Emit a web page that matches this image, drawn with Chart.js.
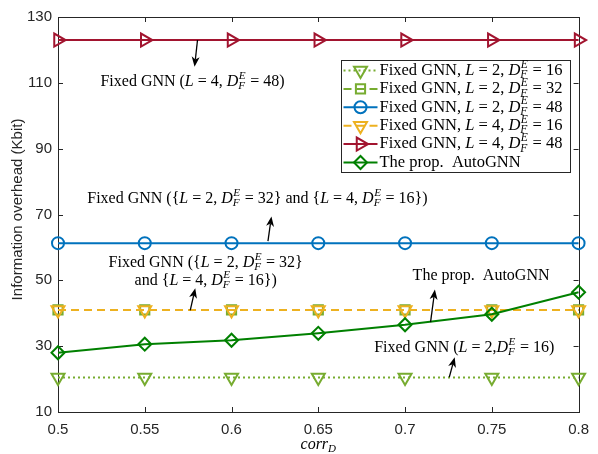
<!DOCTYPE html>
<html><head><meta charset="utf-8">
<script src="https://cdn.jsdelivr.net/npm/chart.js@4.4.0/dist/chart.umd.min.js"></script>
<style>html,body{margin:0;padding:0;background:#fff;}#wrap{width:598px;height:454px;position:relative;}</style>
</head><body><div id="wrap"><canvas id="c" width="598" height="454"></canvas></div>
<script>
// ---- data ----
const corrD = [0.5, 0.55, 0.6, 0.65, 0.7, 0.75, 0.8];
const xTickLabels = ['0.5', '0.55', '0.6', '0.65', '0.7', '0.75', '0.8'];
const yTickValues = [10, 30, 50, 70, 90, 110, 130];
const fixedL2D16 = [20.5, 20.5, 20.5, 20.5, 20.5, 20.5, 20.5];
const fixedL2D32 = [41, 41, 41, 41, 41, 41, 41];
const fixedL2D48 = [61.3, 61.3, 61.3, 61.3, 61.3, 61.3, 61.3];
const fixedL4D16 = [41, 41, 41, 41, 41, 41, 41];
const fixedL4D48 = [123, 123, 123, 123, 123, 123, 123];
const autoGNN = [28.0, 30.6, 31.8, 33.9, 36.5, 39.7, 46.4];
const seriesLabels = [
  'Fixed GNN, $L$ = 2, $D$^{E}_{F} = 16',
  'Fixed GNN, $L$ = 2, $D$^{E}_{F} = 32',
  'Fixed GNN, $L$ = 2, $D$^{E}_{F} = 48',
  'Fixed GNN, $L$ = 4, $D$^{E}_{F} = 16',
  'Fixed GNN, $L$ = 4, $D$^{E}_{F} = 48',
  'The prop.  AutoGNN'
];
// annotations: text lines at data coords, arrows tail->tip in data coords
const annotations = [
  {x: 0.5775, y: 110.3, lines: ['Fixed GNN ($L$ = 4, $D$^{E}_{F} = 48)'], tail: [0.5804, 123.0], tip: [0.5787, 114.9]},
  {x: 0.6149, y: 74.7, lines: ['Fixed GNN ({$L$ = 2, $D$^{E}_{F} = 32} and {$L$ = 4, $D$^{E}_{F} = 16})'], tail: [0.621, 61.9], tip: [0.623, 69.4]},
  {x: 0.5851, y: 55.4, lines: ['Fixed GNN ({$L$ = 2, $D$^{E}_{F} = 32}', 'and {$L$ = 4, $D$^{E}_{F} = 16})'], tail: [0.5762, 40.9], tip: [0.5791, 47.6]},
  {x: 0.7438, y: 51.4, lines: ['The prop.  AutoGNN'], tail: [0.7147, 37.3], tip: [0.7172, 47.2]},
  {x: 0.7341, y: 29.6, lines: ['Fixed GNN ($L$ = 2,$D$^{E}_{F} = 16)'], tail: [0.7255, 20.6], tip: [0.7286, 26.6]}
];

// ---- styles ----
const styles = [
  {color: '#77AC30', dash: [2, 3], style: 'triangle', rot: 180, r: 7.5},
  {color: '#77AC30', dash: [8, 5], style: 'rect', rot: 0, r: 6.5},
  {color: '#0072BD', dash: [], style: 'circle', rot: 0, r: 6},
  {color: '#EDB120', dash: [8, 5], style: 'triangle', rot: 180, r: 7.5},
  {color: '#A2142F', dash: [], style: 'triangle', rot: 90, r: 7.5},
  {color: '#008000', dash: [], style: 'rectRot', rot: 0, r: 6.5}
];
const seriesData = [fixedL2D16, fixedL2D32, fixedL2D48, fixedL4D16, fixedL4D48, autoGNN];
const AXIS = '#262626';
const SERIF = '"Liberation Serif", "Times New Roman", serif';
const SANS = '"Liberation Sans", Arial, sans-serif';

// ---- rich text ----
function parseRich(s) {
  const segs = []; let i = 0, buf = '';
  const flush = () => { if (buf) { segs.push({k: 'r', t: buf}); buf = ''; } };
  while (i < s.length) {
    const c = s[i];
    if (c === '$') { flush(); const j = s.indexOf('$', i + 1); segs.push({k: 'i', t: s.slice(i + 1, j)}); i = j + 1; }
    else if (c === '^') {
      flush(); const m = /^\^\{([^}]*)\}_\{([^}]*)\}/.exec(s.slice(i));
      segs.push({k: 's', sup: m[1], sub: m[2]}); i += m[0].length;
    } else { buf += c; i++; }
  }
  flush(); return segs;
}
function fontFor(k, size) { return (k === 'r' ? '' : 'italic ') + size + 'px ' + SERIF; }
function richWidth(ctx, segs, size) {
  let w = 0;
  for (const s of segs) {
    if (s.k === 's') {
      ctx.font = fontFor('i', size * 0.7);
      w += Math.max(ctx.measureText(s.sup).width, ctx.measureText(s.sub).width) + 1;
    } else { ctx.font = fontFor(s.k, size); w += ctx.measureText(s.t).width; }
  }
  return w;
}
function drawRich(ctx, str, x, y, size, align) {
  const segs = parseRich(str);
  let cx = align === 'center' ? x - richWidth(ctx, segs, size) / 2 : x;
  ctx.textBaseline = 'middle'; ctx.textAlign = 'left'; ctx.fillStyle = '#000';
  for (const s of segs) {
    if (s.k === 's') {
      ctx.font = fontFor('i', size * 0.7);
      ctx.fillText(s.sup, cx + 0.5, y - size * 0.36);
      ctx.fillText(s.sub, cx, y + size * 0.28);
      cx += Math.max(ctx.measureText(s.sup).width, ctx.measureText(s.sub).width) + 1;
    } else {
      ctx.font = fontFor(s.k, size); ctx.fillText(s.t, cx, y);
      cx += ctx.measureText(s.t).width;
    }
  }
}
function drawMarker(ctx, st, x, y) {
  ctx.save(); ctx.translate(x, y); ctx.rotate(st.rot * Math.PI / 180);
  ctx.beginPath(); const r = st.r;
  if (st.style === 'circle') ctx.arc(0, 0, r, 0, Math.PI * 2);
  else if (st.style === 'triangle') {
    for (let k = 0; k < 3; k++) { const a = k * 2 * Math.PI / 3; const px = Math.sin(a) * r, py = -Math.cos(a) * r; k ? ctx.lineTo(px, py) : ctx.moveTo(px, py); }
    ctx.closePath();
  } else if (st.style === 'rect') { const s = r * Math.SQRT1_2; ctx.rect(-s, -s, 2 * s, 2 * s); }
  else { ctx.moveTo(-r, 0); ctx.lineTo(0, -r); ctx.lineTo(r, 0); ctx.lineTo(0, r); ctx.closePath(); }
  ctx.setLineDash([]); ctx.lineWidth = 2; ctx.strokeStyle = st.color; ctx.stroke(); ctx.restore();
}
function drawArrow(ctx, x1, y1, x2, y2) {
  ctx.save(); ctx.strokeStyle = '#000'; ctx.fillStyle = '#000'; ctx.lineWidth = 1.3; ctx.setLineDash([]);
  const a = Math.atan2(y2 - y1, x2 - x1), L = 10, W = 4;
  const bx = x2 - Math.cos(a) * L, by = y2 - Math.sin(a) * L;
  ctx.beginPath(); ctx.moveTo(x1, y1); ctx.lineTo(bx + Math.cos(a) * 3, by + Math.sin(a) * 3); ctx.stroke();
  ctx.beginPath(); ctx.moveTo(x2, y2);
  ctx.lineTo(bx - Math.sin(a) * W, by + Math.cos(a) * W);
  ctx.lineTo(x2 - Math.cos(a) * L * 0.72, y2 - Math.sin(a) * L * 0.72);
  ctx.lineTo(bx + Math.sin(a) * W, by - Math.cos(a) * W);
  ctx.closePath(); ctx.fill(); ctx.restore();
}

const decor = {
  id: 'decor',
  beforeDatasetsDraw(chart) {
    const {ctx, chartArea: a, scales: {x, y}} = chart;
    ctx.save(); ctx.strokeStyle = AXIS; ctx.lineWidth = 1; ctx.setLineDash([]);
    ctx.strokeRect(Math.round(a.left) + 0.5, Math.round(a.top) + 0.5, Math.round(a.right - a.left), Math.round(a.bottom - a.top));
    ctx.beginPath();
    for (const v of corrD) {
      const px = Math.round(x.getPixelForValue(v)) + 0.5;
      ctx.moveTo(px, a.bottom); ctx.lineTo(px, a.bottom - 5);
      ctx.moveTo(px, a.top); ctx.lineTo(px, a.top + 5);
    }
    for (const v of yTickValues) {
      const py = Math.round(y.getPixelForValue(v)) + 0.5;
      ctx.moveTo(a.left, py); ctx.lineTo(a.left + 5, py);
      ctx.moveTo(a.right, py); ctx.lineTo(a.right - 5, py);
    }
    ctx.stroke(); ctx.restore();
  },
  afterDatasetsDraw(chart) {
    const {ctx, chartArea: a, scales: {x, y}} = chart;
    ctx.save();
    // annotations
    for (const an of annotations) {
      const cx = x.getPixelForValue(an.x);
      an.lines.forEach((ln, i) => drawRich(ctx, ln, cx, y.getPixelForValue(an.y) + i * 18.5, 16, 'center'));
      drawArrow(ctx, x.getPixelForValue(an.tail[0]), y.getPixelForValue(an.tail[1]), x.getPixelForValue(an.tip[0]), y.getPixelForValue(an.tip[1]));
    }
    // legend
    const L = 341.5, T = 60.5, W = 229, H = 112, row = 18.4;
    ctx.fillStyle = '#fff'; ctx.fillRect(L, T, W, H);
    ctx.strokeStyle = AXIS; ctx.lineWidth = 1; ctx.strokeRect(L, T, W, H);
    seriesLabels.forEach((lab, i) => {
      const st = styles[i], yy = T + 10 + i * row;
      ctx.beginPath(); ctx.strokeStyle = st.color; ctx.lineWidth = 2; ctx.setLineDash(st.dash);
      ctx.moveTo(L + 2, yy); ctx.lineTo(L + 36, yy); ctx.stroke(); ctx.setLineDash([]);
      drawMarker(ctx, st, L + 19, yy);
      drawRich(ctx, lab, L + 38, yy, 16.5, 'left');
    });
    // y title
    ctx.save(); ctx.translate(18, (a.top + a.bottom) / 2 - 5); ctx.rotate(-Math.PI / 2);
    ctx.font = '15px ' + SANS; ctx.fillStyle = AXIS; ctx.textAlign = 'center'; ctx.textBaseline = 'middle';
    ctx.fillText('Information overhead (Kbit)', 0, 0); ctx.restore();
    // x title corr_D
    ctx.font = 'italic 16px ' + SERIF; ctx.fillStyle = '#000'; ctx.textBaseline = 'middle'; ctx.textAlign = 'left';
    const w1 = ctx.measureText('corr').width; ctx.font = 'italic 11px ' + SERIF; const w2 = ctx.measureText('D').width;
    const sx = (a.left + a.right) / 2 - (w1 + w2) / 2;
    ctx.font = 'italic 16px ' + SERIF; ctx.fillText('corr', sx, 445);
    ctx.font = 'italic 11px ' + SERIF; ctx.fillText('D', sx + w1, 449);
    ctx.restore();
  }
};

const datasets = seriesData.map((d, i) => ({
  label: seriesLabels[i],
  data: d.map((v, j) => ({x: corrD[j], y: v})),
  borderColor: styles[i].color, borderWidth: 2, borderDash: styles[i].dash,
  pointStyle: styles[i].style, pointRotation: styles[i].rot, pointRadius: styles[i].r,
  pointBorderColor: styles[i].color, pointBackgroundColor: 'rgba(0,0,0,0)', pointBorderWidth: 2,
  fill: false, tension: 0, clip: false, order: seriesData.length - i
}));

new Chart(document.getElementById('c'), {
  type: 'line',
  data: {datasets},
  options: {
    responsive: false, animation: false, devicePixelRatio: 1,
    layout: {padding: {left: 0, right: 15, top: 17, bottom: 0}},
    plugins: {legend: {display: false}, tooltip: {enabled: false}, title: {display: false}},
    scales: {
      x: {
        type: 'linear', min: 0.5, max: 0.8,
        afterBuildTicks: s => { s.ticks = corrD.map(v => ({value: v})); },
        afterFit: s => { s.height = 42; },
        grid: {display: false, drawTicks: false}, border: {display: false},
        ticks: {padding: 9, color: AXIS, font: {family: SANS, size: 15}, maxRotation: 0, autoSkip: false,
          callback: (v, i) => xTickLabels[i]}
      },
      y: {
        min: 10, max: 130,
        afterBuildTicks: s => { s.ticks = yTickValues.map(v => ({value: v})); },
        afterFit: s => { s.width = 58; },
        grid: {display: false, drawTicks: false}, border: {display: false},
        ticks: {padding: 6, color: AXIS, font: {family: SANS, size: 15}, callback: v => String(v)}
      }
    }
  },
  plugins: [decor]
});
</script></body></html>
